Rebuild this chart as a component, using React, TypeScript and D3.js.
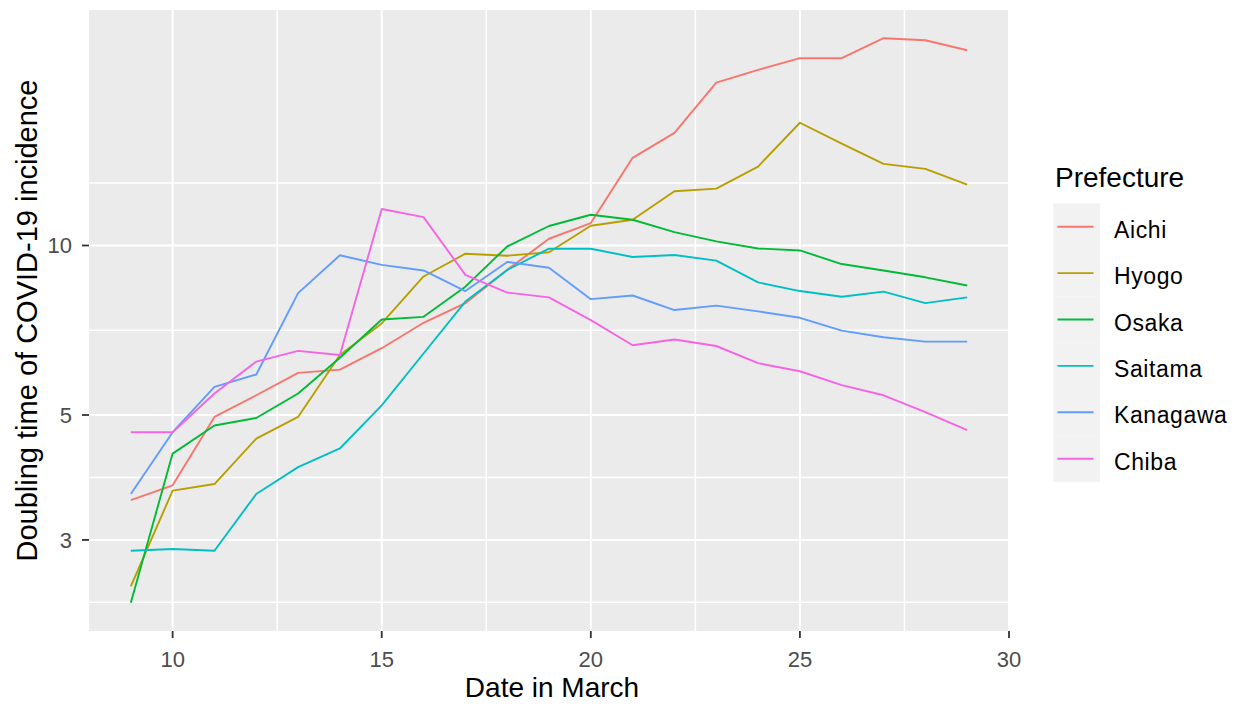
import React from 'react';
import * as d3 from 'd3';

const days = [9, 10, 11, 12, 13, 14, 15, 16, 17, 18, 19, 20, 21, 22, 23, 24, 25, 26, 27, 28, 29];
const prefectures = ['Aichi', 'Hyogo', 'Osaka', 'Saitama', 'Kanagawa', 'Chiba'];
const aichi = [3.53, 3.75, 4.96, 5.42, 5.94, 6.02, 6.57, 7.29, 7.9, 9.05, 10.28, 10.96, 14.31, 15.85, 19.47, 20.5, 21.51, 21.51, 23.34, 23.15, 22.22];
const hyogo = [2.48, 3.67, 3.77, 4.54, 4.96, 6.39, 7.27, 8.81, 9.67, 9.59, 9.73, 10.84, 11.11, 12.48, 12.62, 13.81, 16.52, 15.17, 13.96, 13.68, 12.83];
const osaka = [2.32, 4.27, 4.79, 4.94, 5.46, 6.32, 7.39, 7.47, 8.45, 9.96, 10.83, 11.34, 11.11, 10.56, 10.17, 9.88, 9.8, 9.27, 9.03, 8.78, 8.49];
const saitama = [2.87, 2.89, 2.87, 3.62, 4.04, 4.36, 5.2, 6.43, 7.95, 9.05, 9.87, 9.87, 9.54, 9.62, 9.4, 8.6, 8.3, 8.11, 8.28, 7.9, 8.09];
const kanagawa = [3.62, 4.66, 5.61, 5.9, 8.23, 9.61, 9.24, 9.03, 8.3, 9.35, 9.13, 8.03, 8.15, 7.68, 7.82, 7.64, 7.44, 7.06, 6.87, 6.75, 6.75];
const chiba = [4.66, 4.66, 5.46, 6.22, 6.5, 6.39, 11.61, 11.23, 8.87, 8.25, 8.09, 7.37, 6.65, 6.81, 6.63, 6.18, 5.98, 5.65, 5.42, 5.06, 4.7];

const xTickValues = [10, 15, 20, 25, 30];
const yTickValues = [3, 5, 10];
const colors = ['#F8766D', '#B79F00', '#00BA38', '#00BFC4', '#619CFF', '#F564E3'];

const FONT = '"Liberation Sans", Arial, sans-serif';

export default function App() {
  const W = 1239, H = 704;
  const left = 89, right = 1009, top = 10, bottom = 631;
  const series = [aichi, hyogo, osaka, saitama, kanagawa, chiba];
  const all = series.flat();
  const lo = Math.log10(d3.min(all) as number);
  const hi = Math.log10(d3.max(all) as number);
  const pad = (hi - lo) * 0.05;
  const y = d3.scaleLog().domain([Math.pow(10, lo - pad), Math.pow(10, hi + pad)]).range([bottom, top]);
  const dx0 = d3.min(days) as number, dx1 = d3.max(days) as number;
  const xpad = (dx1 - dx0) * 0.05;
  const x = d3.scaleLinear().domain([dx0 - xpad, dx1 + xpad]).range([left, right]);

  const minorBreaks = (majors: number[], limits: [number, number]) => {
    let b = majors.slice();
    const bd = b[1] - b[0];
    if (limits[0] < b[0]) b = [b[0] - bd, ...b];
    if (limits[1] > b[b.length - 1]) b = [...b, b[b.length - 1] + bd];
    const out: number[] = [];
    for (let i = 0; i < b.length - 1; i++) out.push((b[i] + b[i + 1]) / 2);
    return out.filter((v) => v >= limits[0] && v <= limits[1]);
  };
  const yLogLim: [number, number] = [lo - pad, hi + pad];
  const yMinor = minorBreaks(yTickValues.map(Math.log10), yLogLim).map((v) => Math.pow(10, v));
  const xMinor = minorBreaks(xTickValues, x.domain() as [number, number]);

  const line = d3.line<number>().x((_, i) => x(days[i])).y((v) => y(v));

  const legendTop = 203.5;
  const keyH = 46.4;

  return (
    <svg width={W} height={H} style={{ position: 'absolute', left: 0, top: 0, background: '#fff' }} fontFamily={FONT}>
      <rect x={left} y={top} width={right - left} height={bottom - top} fill="#EBEBEB" />
      {yMinor.map((v, i) => (
        <line key={'ym' + i} x1={left} x2={right} y1={y(v)} y2={y(v)} stroke="#fff" strokeWidth={1.5} />
      ))}
      {xMinor.map((v, i) => (
        <line key={'xm' + i} x1={x(v)} x2={x(v)} y1={top} y2={bottom} stroke="#fff" strokeWidth={1.5} />
      ))}
      {yTickValues.map((v, i) => (
        <line key={'yM' + i} x1={left} x2={right} y1={y(v)} y2={y(v)} stroke="#fff" strokeWidth={2} />
      ))}
      {xTickValues.map((v, i) => (
        <line key={'xM' + i} x1={x(v)} x2={x(v)} y1={top} y2={bottom} stroke="#fff" strokeWidth={2} />
      ))}
      {series.map((s, i) => (
        <path key={'s' + i} d={line(s) || ''} fill="none" stroke={colors[i]} strokeWidth={1.9} strokeLinejoin="round" />
      ))}
      {yTickValues.map((v, i) => (
        <g key={'yt' + i}>
          <line x1={left - 7} x2={left} y1={y(v)} y2={y(v)} stroke="#333333" strokeWidth={1.8} />
          <text x={left - 17} y={y(v)} dy="0.36em" textAnchor="end" fontSize={22} fill="#4D4D4D">{v}</text>
        </g>
      ))}
      {xTickValues.map((v, i) => (
        <g key={'xt' + i}>
          <line x1={x(v)} x2={x(v)} y1={bottom} y2={bottom + 7} stroke="#333333" strokeWidth={1.8} />
          <text x={x(v)} y={666.5} textAnchor="middle" fontSize={22} fill="#4D4D4D">{v}</text>
        </g>
      ))}
      <text x={(left + right) / 2 + 3} y={697} textAnchor="middle" fontSize={28} fill="#000">Date in March</text>
      <text transform={`translate(37,${(top + bottom) / 2}) rotate(-90)`} textAnchor="middle" fontSize={29} fill="#000">Doubling time of COVID-19 incidence</text>
      <text x={1055} y={187} fontSize={28} fill="#000">Prefecture</text>
      {prefectures.map((p, i) => {
        const cy = legendTop + keyH * i + keyH / 2;
        return (
          <g key={'lg' + i}>
            <rect x={1053.3} y={legendTop + keyH * i} width={46.7} height={keyH} fill="#F2F2F2" />
            <line x1={1057.5} x2={1093.5} y1={cy} y2={cy} stroke={colors[i]} strokeWidth={1.9} />
            <text x={1114} y={cy + 11} fontSize={23} letterSpacing={0.6} fill="#000">{p}</text>
          </g>
        );
      })}
    </svg>
  );
}
